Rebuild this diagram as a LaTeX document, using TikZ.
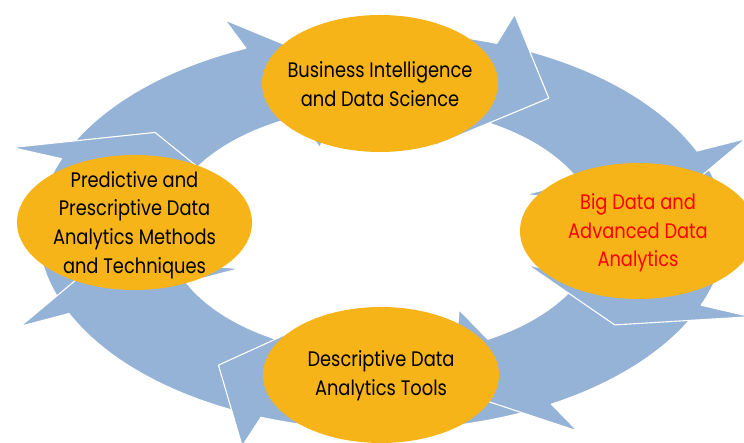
\documentclass[tikz,border=0pt]{standalone}
\usepackage{fontspec}
\setmainfont{Poppins}[FakeStretch=0.85]
\usetikzlibrary{calc}
\definecolor{arrowblue}{RGB}{149,179,215}
\definecolor{nodeorange}{RGB}{246,180,25}
\definecolor{redtext}{RGB}{255,0,0}
\newcommand{\ringarrow}[3]{% #1 tail angle, #2 barb angle, #3 tip angle
  \path[ringarrowstyle] (#1:1) arc[start angle=#1, end angle=#2, radius=1]
    -- (#2:1.155) -- (#3:0.825) -- (#2:0.455) -- (#2:0.625)
    arc[start angle=#2, end angle=#1, radius=0.625] -- cycle;}
\tikzset{
  ringarrowstyle/.style={fill=arrowblue, draw=white, line width=1.1pt, line join=round},
  stagetext/.style={align=center, font=\fontsize{21}{28.7}\selectfont, text=black, inner sep=0pt}
}
\begin{document}
\begin{tikzpicture}[x=1pt,y=1pt]
\useasboundingbox (0,0) rectangle (744,443);
\begin{scope}[shift={(382,212)}, x=344pt, y=199pt]
  \ringarrow{156.7}{113.3}{98}
  \ringarrow{202.5}{158.7}{143.1}
  \ringarrow{-112.6}{-155.5}{-170.5}
  \ringarrow{-62.5}{-110.6}{-125.2}
  \ringarrow{-23.9}{-60.5}{-75.5}
  \ringarrow{21.7}{-21.9}{-34.9}
  \ringarrow{68.5}{23.7}{8}
  \ringarrow{100}{70.5}{54}
\end{scope}
\fill[nodeorange] (380,359.5) ellipse[x radius=118, y radius=68.5];
\fill[nodeorange] (134.5,220.5) ellipse[x radius=117.5, y radius=67.5];
\fill[nodeorange] (638,212) ellipse[x radius=118, y radius=68];
\fill[nodeorange] (381,68) ellipse[x radius=118, y radius=68];
\node[stagetext] (bi) at (380,359) {Business Intelligence\\and Data Science};
\node[stagetext] (pp) at (134.5,218) {Predictive and\\Prescriptive Data\\Analytics Methods\\and Techniques};
\node[stagetext, text=redtext] (bd) at (638,210) {Big Data and\\Advanced Data\\Analytics};
\node[stagetext] (dd) at (381,67) {Descriptive Data\\Analytics Tools};
\end{tikzpicture}
\end{document}
